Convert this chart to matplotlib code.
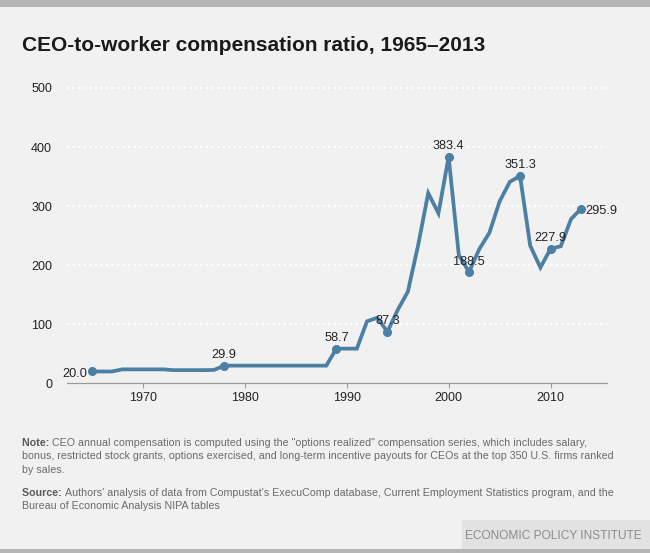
import matplotlib
matplotlib.use("Agg")
import matplotlib.pyplot as plt
from matplotlib.patches import Rectangle
from matplotlib import font_manager

years = list(range(1965, 2014))
ratio = [20.0, 20.0, 20.0, 23.6, 23.6, 23.6, 23.6, 23.6, 22.3, 22.3,
         22.3, 22.3, 22.6, 29.9, 29.9, 29.9, 29.9, 29.9, 29.9, 29.9,
         29.9, 29.9, 29.9, 29.9, 58.7, 58.7, 58.7, 105.0, 111.0, 87.3,
         124.0, 155.0, 233.0, 322.0, 288.0, 383.4, 217.0, 188.5, 227.0, 255.0,
         308.0, 341.0, 351.3, 233.0, 196.0, 227.9, 232.0, 278.0, 295.9]
label_years = [1965, 1978, 1989, 1994, 2000, 2002, 2007, 2010, 2013]
yticks = [0, 100, 200, 300, 400, 500]
xticks = [1970, 1980, 1990, 2000, 2010]
title = "CEO-to-worker compensation ratio, 1965\u20132013"
note_lines = ["CEO annual compensation is computed using the \"options realized\" compensation series, which includes salary,",
              "bonus, restricted stock grants, options exercised, and long-term incentive payouts for CEOs at the top 350 U.S. firms ranked",
              "by sales."]
source_lines = ["Authors' analysis of data from Compustat's ExecuComp database, Current Employment Statistics program, and the",
                "Bureau of Economic Analysis NIPA tables"]

names = {f.name for f in font_manager.fontManager.ttflist}
narrow = 'Liberation Sans Narrow' if 'Liberation Sans Narrow' in names else 'Liberation Sans'
FAM = [narrow, 'DejaVu Sans']

W, H = 650, 553
fig = plt.figure(figsize=(W / 100, H / 100), dpi=100)
BG = '#f1f1f1'
fig.patch.set_facecolor(BG)

def fx(px):
    return px / W

def fy(py):
    return 1 - py / H

# top & bottom bands
fig.add_artist(Rectangle((0, fy(7)), 1, 7 / H, transform=fig.transFigure, color='#b5b5b5', lw=0))
fig.add_artist(Rectangle((0, 0), 1, 4.5 / H, transform=fig.transFigure, color='#b5b5b5', lw=0))
fig.add_artist(Rectangle((fx(462), 4.5 / H), 1 - fx(462), 29 / H, transform=fig.transFigure, color='#e2e2e2', lw=0))
fig.text(fx(642), fy(536), "ECONOMIC POLICY INSTITUTE", ha='right', va='center',
         fontsize=8.6, color='#8c8c8c', family=FAM)

fig.text(fx(22), fy(50.7), title, ha='left', va='baseline', fontsize=15,
         fontweight='bold', color='#1a1a1a', family=FAM)

left, right = 66.7, 606.7
top, bottom = 88, 383.3
ax = fig.add_axes([fx(left), fy(bottom), fx(right) - fx(left), (bottom - top) / H])
ax.set_facecolor(BG)
ax.set_xlim(1962.55, 2015.5)
ax.set_ylim(0, 500)
for s in ['top', 'right', 'left']:
    ax.spines[s].set_visible(False)
ax.spines['bottom'].set_color('#9a9a9a')
ax.spines['bottom'].set_linewidth(0.9)
ax.set_yticks(yticks)
ax.set_xticks(xticks)
ax.tick_params(axis='y', length=0, pad=10.5, labelsize=9, labelcolor='#222222')
ax.tick_params(axis='x', length=3.5, width=0.8, color='#9a9a9a', pad=3, labelsize=9, labelcolor='#222222')
for lab in ax.get_xticklabels() + ax.get_yticklabels():
    lab.set_family(FAM)
for v in yticks[1:]:
    ax.axhline(v, color='white', lw=1.6, ls=(0, (1.0, 1.5)), zorder=1, clip_on=False)

COL = '#4b7fa3'
ax.plot(years, ratio, color=COL, lw=2.7, solid_joinstyle='miter', zorder=3, clip_on=False)
lv = [ratio[years.index(y)] for y in label_years]
ax.plot(label_years, lv, 'o', color=COL, ms=5.5, zorder=4, clip_on=False)

for y, v in zip(label_years, lv):
    txt = f"{v:.1f}"
    if y == 1965:
        ax.annotate(txt, (y, v), xytext=(-3, -1.5), textcoords='offset points',
                    ha='right', va='center', fontsize=9.2, family=FAM, color='#222222')
    elif y == 2013:
        ax.annotate(txt, (y, v), xytext=(3, -1.5), textcoords='offset points',
                    ha='left', va='center', fontsize=9.2, family=FAM, color='#222222')
    else:
        ax.annotate(txt, (y, v), xytext=(0, 7.5), textcoords='offset points',
                    ha='center', va='center', fontsize=9.2, family=FAM, color='#222222')

NC = '#6a6a6a'
NFS = 7.7
def block(label, lines, y0):
    t = fig.text(fx(22), fy(y0), label + " ", ha='left', va='center', fontsize=NFS,
                 fontweight='bold', color='#5a5a5a', family=FAM)
    fig.canvas.draw()
    bb = t.get_window_extent()
    fig.text(bb.x1 / W, fy(y0), lines[0], ha='left', va='center', fontsize=NFS, color=NC, family=FAM)
    for i, ln in enumerate(lines[1:], 1):
        fig.text(fx(22), fy(y0 + 13.6 * i), ln, ha='left', va='center', fontsize=NFS, color=NC, family=FAM)

block("Note:", note_lines, 442.7)
block("Source:", source_lines, 492.7)

fig.savefig("out.png", dpi=100, facecolor=BG)
